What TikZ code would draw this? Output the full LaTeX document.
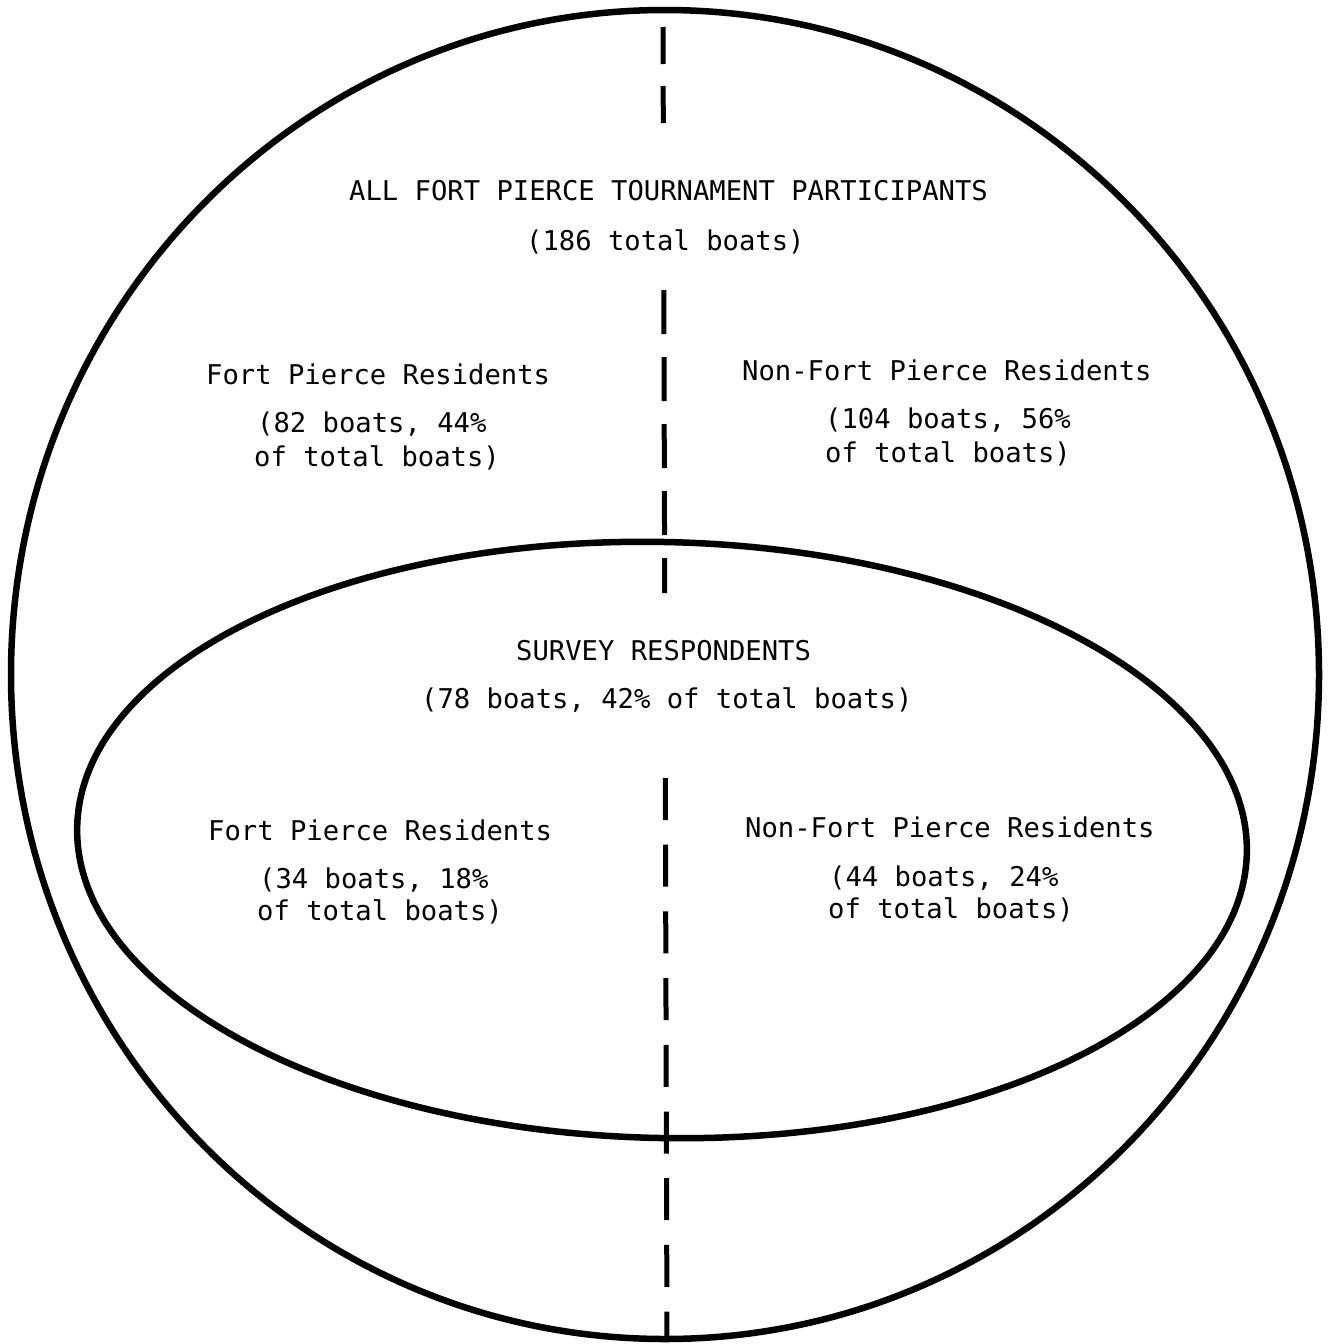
\documentclass[tikz,border=0pt]{standalone}
\usepackage{fontspec}
\newfontfamily\typewriter{DejaVu Sans Mono}
\begin{document}
\begin{tikzpicture}[x=1pt,y=-1pt,
  outline/.style={line width=6.5pt},
  divider/.style={line width=5pt},
  label/.style={inner sep=0pt,anchor=base west,
    font=\typewriter\fontsize{27.2}{30}\selectfont}]
% page
\fill[white] (0,0) rectangle (1331,1344);
\useasboundingbox (0,0) rectangle (1331,1344);

% all participants
\draw[outline] (665,674.5) ellipse [x radius=654, y radius=664.5];
% survey respondents
\draw[outline,rotate around={-1.3:(662,840)}] (662,840) ellipse [x radius=585, y radius=298];

% dividing line between residents and non-residents
\coordinate (d1a) at (663,27);
\coordinate (d1b) at (663.3,125);
\coordinate (d2a) at (663.8,290);
\coordinate (d2b) at (664.7,593);
\coordinate (d3a) at (665.3,778);
\coordinate (d3b) at (667,1340);
\draw[divider,dash pattern=on 37pt off 22pt] (d1a) -- (d1b);
\draw[divider,dash pattern=on 44pt off 23pt] (d2a) -- (d2b);
\draw[divider,dash pattern=on 42pt off 24.7pt] (d3a) -- (d3b);

% outer set
\node[label] (all) at (349,200) {ALL FORT PIERCE TOURNAMENT PARTICIPANTS};
\node[label] (alltot) at (526,250) {(186 total boats)};
\node[label] (fpres) at (206,384) {Fort Pierce Residents};
\node[label] (fpres1) at (257,432) {(82 boats, 44\%};
\node[label] (fpres2) at (254,466) {of total boats)};
\node[label] (nfpres) at (742,380) {Non-Fort Pierce Residents};
\node[label] (nfpres1) at (825,428) {(104 boats, 56\%};
\node[label] (nfpres2) at (825,462) {of total boats)};

% survey set
\node[label] (svy) at (516,660) {SURVEY RESPONDENTS};
\node[label] (svytot) at (421,708) {(78 boats, 42\% of total boats)};
\node[label] (sfp) at (208,840) {Fort Pierce Residents};
\node[label] (sfp1) at (259,888) {(34 boats, 18\%};
\node[label] (sfp2) at (257,920) {of total boats)};
\node[label] (snfp) at (745,837) {Non-Fort Pierce Residents};
\node[label] (snfp1) at (829,886) {(44 boats, 24\%};
\node[label] (snfp2) at (828,918) {of total boats)};
\end{tikzpicture}
\end{document}
